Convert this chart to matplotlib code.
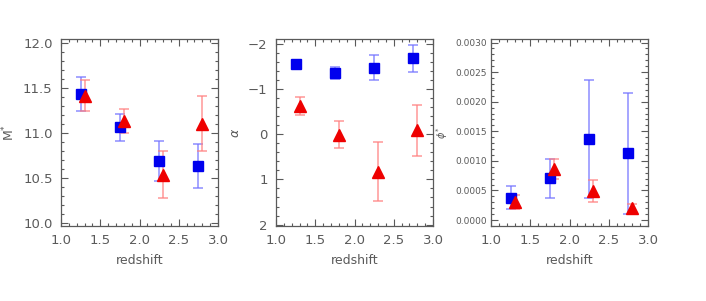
import numpy as np
import matplotlib.pyplot as plt
from matplotlib.ticker import MultipleLocator

# redshift bins
z_blue = [1.25, 1.75, 2.25, 2.75]
z_red = [1.30, 1.80, 2.30, 2.80]

# M*
mstar_blue = [11.44, 11.07, 10.69, 10.64]
mstar_blue_err = [0.19, 0.15, 0.22, 0.245]
mstar_red = [11.42, 11.14, 10.54, 11.11]
mstar_red_err = [0.17, 0.13, 0.26, 0.31]

# alpha
alpha_blue = [-1.55, -1.35, -1.47, -1.67]
alpha_blue_err = [0.03, 0.13, 0.27, 0.30]
alpha_red = [-0.63, 0.01, 0.83, -0.08]
alpha_red_err = [0.20, 0.30, 0.65, 0.56]

# phi*
phi_blue = [0.00038, 0.00071, 0.00137, 0.00113]
phi_blue_err = [0.00019, 0.00033, 0.00100, 0.00102]
phi_red = [0.00030, 0.00086, 0.00049, 0.00020]
phi_red_err = [0.00012, 0.00017, 0.00018, 0.00008]

GREY = "#5a5a5a"

fig = plt.figure(figsize=(7.06, 3.01), dpi=100)
w = 157 / 706
h = 187 / 301
b = 1 - 226 / 301
axes = [fig.add_axes([l / 706, b, w, h]) for l in (61, 276, 491)]

panels = [
    (mstar_blue, mstar_blue_err, mstar_red, mstar_red_err, "M$^{*}$"),
    (alpha_blue, alpha_blue_err, alpha_red, alpha_red_err, r"$\alpha$"),
    (phi_blue, phi_blue_err, phi_red, phi_red_err, r"$\phi^{*}$"),
]

for ax, (yb, eb, yr, er, lab) in zip(axes, panels):
    ax.errorbar(z_blue, yb, yerr=eb, fmt="none", ecolor=(0.45, 0.45, 1.0, 0.75),
                elinewidth=1.2, capsize=3.5, capthick=1.2, zorder=2)
    ax.errorbar(z_red, yr, yerr=er, fmt="none", ecolor=(1.0, 0.5, 0.5, 0.75),
                elinewidth=1.2, capsize=3.5, capthick=1.2, zorder=2)
    ax.plot(z_blue, yb, "s", color="#0000ee", ms=7.5, zorder=3)
    ax.plot(z_red, yr, "^", color="#ee0000", ms=8, zorder=4)
    ax.set_xlim(1.0, 3.0)
    ax.xaxis.set_major_locator(MultipleLocator(0.5))
    ax.xaxis.set_minor_locator(MultipleLocator(0.1))
    ax.xaxis.set_major_formatter(plt.FormatStrFormatter("%.1f"))
    ax.set_xlabel("redshift", color=GREY, fontsize=9, labelpad=5)
    ax.set_ylabel(lab, color=GREY, fontsize=9)
    ax.tick_params(which="both", direction="in", top=True, right=True,
                   colors=GREY, labelcolor=GREY, width=0.8)
    ax.tick_params(which="major", length=5, labelsize=9.5, pad=6)
    ax.tick_params(which="minor", length=2.5)
    for s in ax.spines.values():
        s.set_color(GREY)
        s.set_linewidth(0.9)

ax1, ax2, ax3 = axes
ax1.set_ylim(9.97, 12.05)
ax1.yaxis.set_major_locator(MultipleLocator(0.5))
ax1.yaxis.set_minor_locator(MultipleLocator(0.1))
ax1.yaxis.set_major_formatter(plt.FormatStrFormatter("%.1f"))

ax2.set_ylim(2.03, -2.1)
ax2.yaxis.set_major_locator(MultipleLocator(1))
ax2.yaxis.set_minor_locator(MultipleLocator(0.2))
ax2.yaxis.set_major_formatter(plt.FuncFormatter(lambda v, p: f"{v:.0f}".replace("-", "\u2212") if v != 0 else "0"))

ax3.set_ylim(-0.0001, 0.00306)
ax3.yaxis.set_major_locator(MultipleLocator(0.0005))
ax3.yaxis.set_minor_locator(MultipleLocator(0.0001))
ax3.yaxis.set_major_formatter(plt.FormatStrFormatter("%.4f"))
ax3.tick_params(axis="y", which="major", labelsize=6.5, pad=3)
ax3.set_ylabel(r"$\phi^{*}$", color=GREY, fontsize=7, labelpad=4)

fig.savefig("out.png", dpi=100)
